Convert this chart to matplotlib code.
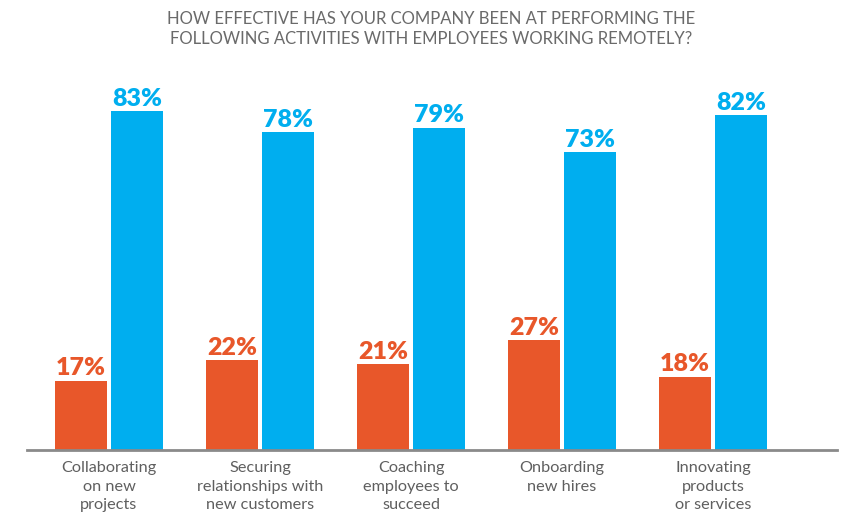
import numpy as np
import matplotlib.pyplot as plt

plt.rcParams['font.family'] = ['Lato', 'DejaVu Sans']

categories = ["Collaborating\non new\nprojects",
              "Securing\nrelationships with\nnew customers",
              "Coaching\nemployees to\nsucceed",
              "Onboarding\nnew hires",
              "Innovating\nproducts\nor services"]
not_effective = [17, 22, 21, 27, 18]
effective = [83, 78, 79, 73, 82]

orange = "#E8572A"
blue = "#00AEEF"
grey_text = "#5f5f5f"

fig = plt.figure(figsize=(8.66, 5.23), dpi=100)
ax = fig.add_axes([27/866, 73/523, 810/866, 450/523])

x = np.arange(len(categories))
w = 0.344
off = 0.187
ax.bar(x - off, not_effective, width=w, color=orange)
ax.bar(x + off, effective, width=w, color=blue)

for i in range(len(categories)):
    ax.text(x[i] - off, not_effective[i] + 0.3, f"{not_effective[i]}%", ha="center", va="bottom",
            color=orange, fontsize=18, fontweight="heavy")
    ax.text(x[i] + off, effective[i] + 0.3, f"{effective[i]}%", ha="center", va="bottom",
            color=blue, fontsize=18, fontweight="heavy")

ax.set_xlim(-0.543, 4.821)
ax.set_ylim(0, 110.3)
ax.set_xticks(x)
ax.set_xticklabels(categories, fontsize=11.7, color=grey_text, linespacing=1.4)
ax.tick_params(axis="x", length=0, pad=8)
ax.set_yticks([])
for s in ["top", "right", "left"]:
    ax.spines[s].set_visible(False)
ax.spines["bottom"].set_color("#8a8a8a")
ax.spines["bottom"].set_linewidth(2)

fig.text(431/866, 1 - 29/523, "HOW EFFECTIVE HAS YOUR COMPANY BEEN AT PERFORMING THE\nFOLLOWING ACTIVITIES WITH EMPLOYEES WORKING REMOTELY?",
         ha="center", va="center", fontsize=12, color="#6a6a6a", linespacing=1.35)

fig.savefig("out.png", dpi=100)
